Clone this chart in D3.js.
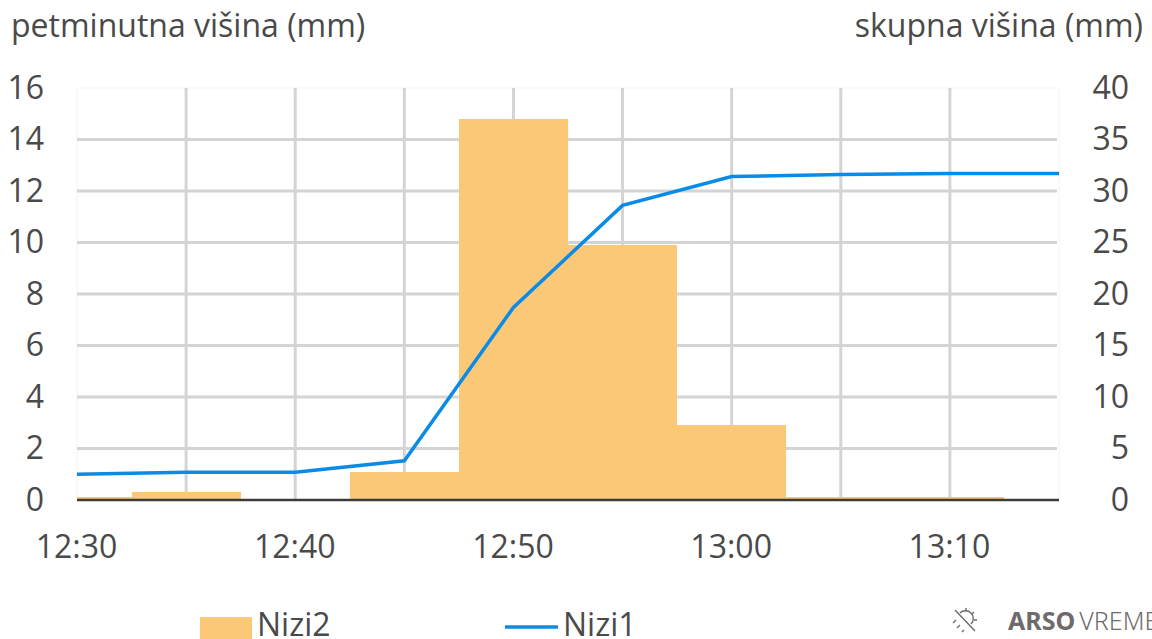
<!DOCTYPE html>
<html>
<head>
<meta charset="utf-8">
<script src="https://cdn.jsdelivr.net/npm/d3@7"></script>
<style>
html, body { margin: 0; padding: 0; background: #fff; overflow: hidden; }
text { font-family: "Open Sans", sans-serif; fill: #4a4a4a; }
</style>
</head>
<body>
<svg id="chart" width="1152" height="639"></svg>
<script>
var times = ["12:30", "12:35", "12:40", "12:45", "12:50", "12:55", "13:00", "13:05", "13:10", "13:15"];
var fiveMin = [0.1, 0.3, 0, 1.1, 14.8, 9.9, 2.9, 0.1, 0.1, 0];
var total = [2.5, 2.7, 2.7, 3.8, 18.7, 28.6, 31.4, 31.6, 31.7, 31.7];
var timeLabels = ["12:30", "12:40", "12:50", "13:00", "13:10"];
var leftTicks = [0, 2, 4, 6, 8, 10, 12, 14, 16];
var rightTicks = [0, 5, 10, 15, 20, 25, 30, 35, 40];

var svg = d3.select("#chart");
var left = 77, right = 1059, top_ = 88, bottom = 500;

var x = d3.scalePoint().domain(times).range([left, right]);
var yL = d3.scaleLinear().domain([0, 16]).range([bottom, top_]);
var yR = d3.scaleLinear().domain([0, 40]).range([bottom, top_]);
var step = x.step();

svg.append("clipPath").attr("id", "plot")
    .append("rect")
    .attr("x", left).attr("y", top_ - 2)
    .attr("width", right - left).attr("height", bottom - top_ + 4);

// faint frame
svg.append("rect")
    .attr("x", left).attr("y", top_)
    .attr("width", right - left).attr("height", bottom - top_)
    .attr("fill", "none")
    .attr("stroke", "#f3f3f3")
    .attr("stroke-width", 1);

// grid
svg.append("g").selectAll("line")
    .data(leftTicks.filter(function(d) { return d > 0 && d < 16; }))
    .enter().append("line")
    .attr("x1", left).attr("x2", right - 2)
    .attr("y1", function(d) { return yL(d); })
    .attr("y2", function(d) { return yL(d); })
    .attr("stroke", "#d4d4d6").attr("stroke-width", 3);

svg.append("g").selectAll("line")
    .data(times.slice(1, -1))
    .enter().append("line")
    .attr("x1", function(d) { return x(d); })
    .attr("x2", function(d) { return x(d); })
    .attr("y1", top_).attr("y2", bottom)
    .attr("stroke", "#d4d4d6").attr("stroke-width", 3);

// bars
svg.append("g").attr("clip-path", "url(#plot)")
    .attr("shape-rendering", "crispEdges")
    .selectAll("rect")
    .data(fiveMin)
    .enter().append("rect")
    .attr("x", function(d, i) { return x(times[i]) - step / 2; })
    .attr("y", function(d) { return yL(d); })
    .attr("width", step)
    .attr("height", function(d) { return bottom - yL(d); })
    .attr("fill", "#fbc878");

// baseline
svg.append("line")
    .attr("x1", left).attr("x2", right)
    .attr("y1", bottom).attr("y2", bottom)
    .attr("stroke", "#3c3c3c").attr("stroke-width", 2.5);

// total line
var line = d3.line()
    .x(function(d, i) { return x(times[i]); })
    .y(function(d) { return yR(d); });

svg.append("path")
    .datum(total)
    .attr("d", line)
    .attr("fill", "none")
    .attr("stroke", "#0a8ce6")
    .attr("stroke-width", 3.5);

// axes
var axisL = svg.append("g")
    .attr("transform", "translate(" + left + ",0)")
    .call(d3.axisLeft(yL).tickValues(leftTicks).tickSize(0).tickPadding(33));
var axisR = svg.append("g")
    .attr("transform", "translate(" + right + ",0)")
    .call(d3.axisRight(yR).tickValues(rightTicks).tickSize(0).tickPadding(33));
var axisB = svg.append("g")
    .attr("transform", "translate(0," + bottom + ")")
    .call(d3.axisBottom(x).tickValues(timeLabels).tickSize(0).tickPadding(35));

[axisL, axisR, axisB].forEach(function(a) {
    a.select(".domain").remove();
    a.selectAll("text")
        .attr("font-size", "32px")
        .style("font-family", '"Open Sans", sans-serif')
        .attr("fill", "#4a4a4a");
});
axisL.selectAll("text").attr("text-anchor", "end").attr("x", -33).attr("dy", "0.32em");
axisR.selectAll("text").attr("x", 70).attr("text-anchor", "end").attr("dy", "0.32em");
axisB.selectAll("text").attr("dx", -1);

// axis titles
svg.append("text").attr("x", 11).attr("y", 37)
    .attr("font-size", "32px").text("petminutna višina (mm)");
svg.append("text").attr("x", 1143).attr("y", 37)
    .attr("text-anchor", "end")
    .attr("font-size", "32px").text("skupna višina (mm)");

// legend
svg.append("rect").attr("x", 200).attr("y", 617).attr("width", 52).attr("height", 22).attr("fill", "#fbc878");
svg.append("text").attr("x", 257).attr("y", 636).attr("font-size", "32px").text("Nizi2");
svg.append("line").attr("x1", 505).attr("x2", 558).attr("y1", 627).attr("y2", 627)
    .attr("stroke", "#0a8ce6").attr("stroke-width", 3.5);
svg.append("text").attr("x", 563).attr("y", 636).attr("font-size", "32px").text("Nizi1");

// watermark
var mark = svg.append("g").attr("transform", "translate(965,620)")
    .attr("stroke", "#6f6a6c").attr("stroke-width", 1.4).attr("fill", "none");
mark.append("path").attr("d", "M-10,-10L10,11M-5,-7A7,7 0 0 1 6,4");
mark.append("path").attr("d", "M1,-12V-9M9,-8L7,-6M12,0H9M-12,3L-9,0M-8,8L-5,5M-3,12L-1,10");
var wm = svg.append("text").attr("x", 1008).attr("y", 630).attr("font-size", "25px")
    .style("font-family", '"Noto Sans", sans-serif');
wm.append("tspan").attr("font-weight", "700").style("fill", "#6f6a6c").text("ARSO");
wm.append("tspan").attr("dx", 4).attr("font-weight", "300").style("fill", "#6f6a6c").text("VREME");
</script>
</body>
</html>
